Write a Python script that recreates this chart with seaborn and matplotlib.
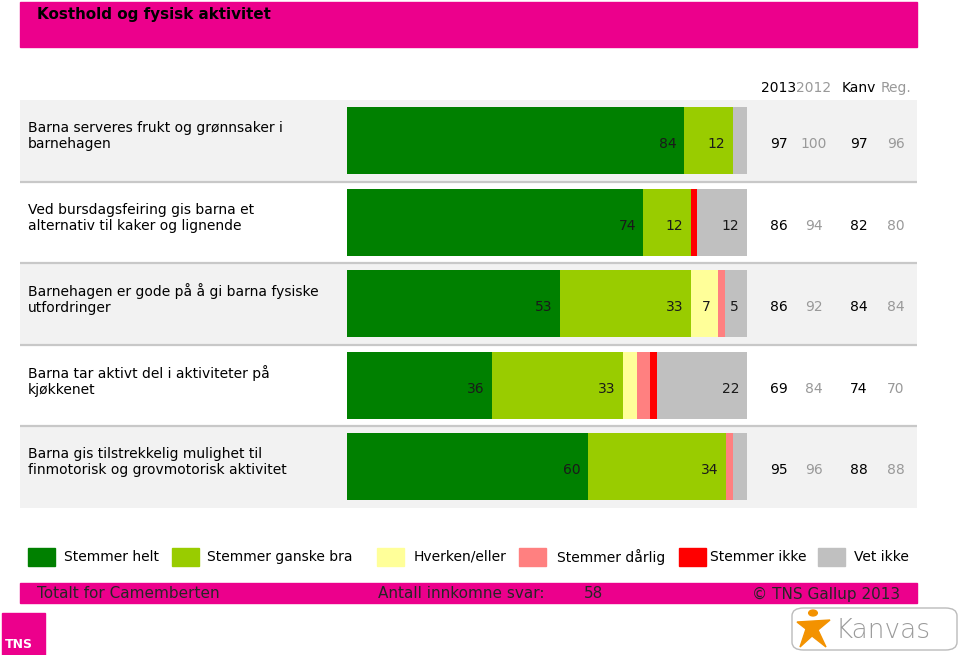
import matplotlib
matplotlib.use("Agg")
import matplotlib.pyplot as plt
from matplotlib.patches import Rectangle, FancyBboxPatch, Circle, Polygon
import seaborn as sns
import pandas as pd

# ---------------- data ----------------
questions = [
    "Barna serveres frukt og grønnsaker i\nbarnehagen",
    "Ved bursdagsfeiring gis barna et\nalternativ til kaker og lignende",
    "Barnehagen er gode på å gi barna fysiske\nutfordringer",
    "Barna tar aktivt del i aktiviteter på\nkjøkkenet",
    "Barna gis tilstrekkelig mulighet til\nfinmotorisk og grovmotorisk aktivitet",
]
responses = ["Stemmer helt", "Stemmer ganske bra", "Hverken/eller",
             "Stemmer dårlig", "Stemmer ikke", "Vet ikke"]
stemmer_helt = [84.4, 74.2, 53.4, 36.3, 60.4]
stemmer_ganske_bra = [12.1, 11.8, 32.7, 32.8, 34.4]
hverken_eller = [0.0, 0.0, 6.8, 3.4, 0.0]
stemmer_darlig = [0.0, 0.0, 1.7, 3.4, 1.7]
stemmer_ikke = [0.0, 1.7, 0.0, 1.7, 0.0]
vet_ikke = [3.5, 12.3, 5.4, 22.4, 3.5]
series = [stemmer_helt, stemmer_ganske_bra, hverken_eller,
          stemmer_darlig, stemmer_ikke, vet_ikke]

col_headers = ["2013", "2012", "Kanv", "Reg."]
v2013 = [97, 86, 86, 69, 95]
v2012 = [100, 94, 92, 84, 96]
vkanv = [97, 82, 84, 74, 88]
vreg = [96, 80, 84, 70, 88]

title = "Kosthold og fysisk aktivitet"
footer_left = "Totalt for Camemberten"
footer_mid = "Antall innkomne svar:"
footer_n = "58"
footer_right = "© TNS Gallup 2013"

colors = ["#008000", "#99CC00", "#FFFF99", "#FF8080", "#FF0000", "#C0C0C0"]
MAGENTA = "#EC008C"

# ---------------- figure ----------------
W, H = 960, 655
sns.set_theme(style="white")
plt.rcParams["font.family"] = ["DejaVu Sans"]
fig = plt.figure(figsize=(W / 100, H / 100), dpi=100)

def fx(px):
    return px / W

def fy(py):
    return 1 - py / H

FS = 10.0

# title bar
fig.patches.append(Rectangle((fx(20), fy(47)), fx(917) - fx(20), fy(2) - fy(47),
                             transform=fig.transFigure, color=MAGENTA, zorder=0))
fig.text(fx(37), fy(14), title, fontsize=10.9, fontweight="bold", va="center",
         ha="left", color="black")

# column headers
hdr_x = [779, 814, 859, 896]
hdr_c = ["black", "#999999", "black", "#999999"]
for t, x, c in zip(col_headers, hdr_x, hdr_c):
    fig.text(fx(x), fy(88), t, fontsize=FS, ha="center", va="center", color=c)

# main axes: pixel 20..917 horizontally, 100..507.5 vertically
bar0, bar100 = 347.0, 746.5
ppu = (bar100 - bar0) / 100.0
ax_left, ax_right = 20.0, 917.0
ax = fig.add_axes([fx(ax_left), fy(507.5), fx(ax_right) - fx(ax_left), fy(100) - fy(507.5)])

# cumulative layers, drawn from the total downwards
cum = [0.0] * len(questions)
cums = []
for s in series:
    cum = [c + v for c, v in zip(cum, s)]
    cums.append(list(cum))
for k in range(len(series) - 1, -1, -1):
    df = pd.DataFrame({"question": questions, "value": cums[k]})
    sns.barplot(data=df, x="value", y="question", orient="h", color=colors[k],
                saturation=1, width=0.82, linewidth=0, ax=ax, zorder=3,
                errorbar=None)

# row backgrounds and separators
for i in range(len(questions)):
    if i % 2 == 0:
        ax.axhspan(i - 0.5, i + 0.5, color="#F2F2F2", zorder=0, lw=0)
    if i > 0:
        ax.axhline(i - 0.5, color="#C8C8C8", lw=1.6, zorder=1)

# segment labels
pad = 7.5 / ppu
for i in range(len(questions)):
    start = 0.0
    for s in series:
        v = s[i]
        end = start + v
        if v >= 4.5:
            ax.text(end - pad, i + 0.04, f"{round(v)}", ha="right", va="center",
                    fontsize=FS, color="#1a1a1a", zorder=5)
        start = end

# row labels and values
x_of = lambda px: (px - bar0) / ppu
for i, q in enumerate(questions):
    ax.text(x_of(28), i - 0.055, q, ha="left", va="center", fontsize=FS,
            color="black", linespacing=1.18, zorder=5)
    for vals, x, c in zip([v2013, v2012, vkanv, vreg], hdr_x, hdr_c):
        ax.text(x_of(x), i + 0.04, f"{vals[i]}", ha="center", va="center",
                fontsize=FS, color=c, zorder=5)

ax.set_xlim(x_of(ax_left), x_of(ax_right))
ax.set_ylim(len(questions) - 0.5, -0.5)
ax.set_xlabel("")
ax.set_ylabel("")
ax.set_xticks([])
ax.set_yticks([])
for sp in ax.spines.values():
    sp.set_visible(False)
ax.set_facecolor("white")

# legend
leg_sq = [28, 172, 377, 519, 679, 818]
leg_tx = [64, 207, 414, 557, 710, 854]
for r, c, sx, tx in zip(responses, colors, leg_sq, leg_tx):
    fig.patches.append(Rectangle((fx(sx), fy(566)), fx(27), fy(548) - fy(566),
                                 transform=fig.transFigure, color=c))
    fig.text(fx(tx), fy(557), r, fontsize=FS, ha="left", va="center", color="black")

# footer bar
fig.patches.append(Rectangle((fx(20), fy(603)), fx(917) - fx(20), fy(583) - fy(603),
                             transform=fig.transFigure, color=MAGENTA, zorder=0))
FFS = 11.0
fig.text(fx(37), fy(594), footer_left, fontsize=FFS, ha="left", va="center")
fig.text(fx(378), fy(594), footer_mid, fontsize=FFS, ha="left", va="center")
fig.text(fx(584), fy(594), footer_n, fontsize=FFS, ha="left", va="center")
fig.text(fx(900), fy(594), footer_right, fontsize=FFS, ha="right", va="center")

# TNS logo
fig.patches.append(Rectangle((fx(2), fy(655)), fx(43), fy(613) - fy(655),
                             transform=fig.transFigure, color=MAGENTA))
fig.text(fx(5), fy(645), "TNS", fontsize=9, fontweight="bold", color="white",
         ha="left", va="center")

# Kanvas logo
fig.patches.append(FancyBboxPatch((fx(792), fy(650)), fx(165), fy(608) - fy(650),
                                  boxstyle="round,pad=0,rounding_size=0.012",
                                  transform=fig.transFigure, facecolor="white",
                                  edgecolor="#BBBBBB", lw=1))
fig.patches.append(Circle((fx(813), fy(613)), 0.0045, transform=fig.transFigure,
                          color="#F39200"))
fig.patches.append(Polygon([(fx(797), fy(622)), (fx(830), fy(620)), (fx(818), fy(630)),
                            (fx(826), fy(647)), (fx(812), fy(636)), (fx(800), fy(647)),
                            (fx(806), fy(629))],
                           closed=True, transform=fig.transFigure, color="#F39200"))
fig.text(fx(836), fy(630), "Kanvas", fontsize=19, color="#9A9A9A", ha="left",
         va="center", fontweight="light")

fig.savefig("out.png", dpi=100)
